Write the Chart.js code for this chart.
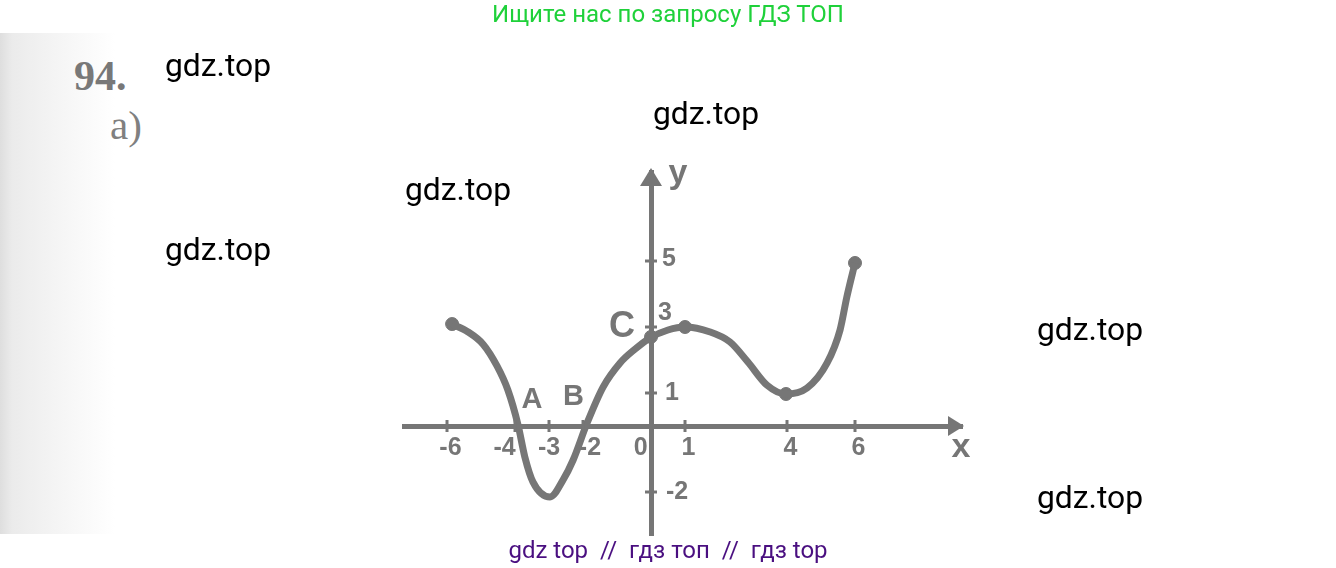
<!DOCTYPE html>
<html>
<head>
<meta charset="utf-8">
<title>94</title>
<script src="https://cdn.jsdelivr.net/npm/chart.js@4"></script>
<style>
html, body { margin: 0; padding: 0; background: #fff; width: 1336px; height: 568px; overflow: hidden; }
#scan { position: absolute; left: 0; top: 33px; width: 115px; height: 501px;
  background: linear-gradient(to right, #dedede 0, #ebebeb 12px, #f2f2f2 45px, #f8f8f8 75px, #fff 115px); }
#wrap { position: absolute; left: 0; top: 0; width: 1336px; height: 568px; filter: blur(0.6px); }
.t { position: absolute; white-space: pre; font-family: Roboto, sans-serif; line-height: 1; }
.wm { font-size: 31.8px; color: #000; }
.print { font-family: "Liberation Serif", serif; color: #808080; }
</style>
</head>
<body>
<div id="scan"></div>
<div class="t print" style="left:74px;top:55px;font-size:42px;font-weight:bold;color:#787878">94.</div>
<div class="t print" style="left:110px;top:105px;font-size:41px;">a)</div>
<div id="wrap"><canvas id="my-chart" width="1336" height="568"></canvas></div>
<div class="t" style="left:0;width:1336px;text-align:center;top:2px;font-size:24px;color:#1fd13a">Ищите нас по запросу ГДЗ ТОП</div>
<div class="t wm" style="left:165px;top:50px">gdz.top</div>
<div class="t wm" style="left:653px;top:98px">gdz.top</div>
<div class="t wm" style="left:405px;top:174px">gdz.top</div>
<div class="t wm" style="left:165px;top:234px">gdz.top</div>
<div class="t wm" style="left:1037px;top:314px">gdz.top</div>
<div class="t wm" style="left:1037px;top:482px">gdz.top</div>
<div class="t" style="left:0;width:1336px;text-align:center;top:538px;font-size:24px;color:#4a0f80">gdz top  //  гдз топ  //  гдз top</div>
<script>
// curve
const curveX = [-5.85, -5.38, -4.94, -4.53, -4.21, -3.91, -3.71, -3.47, -2.97, -2.59, -2.29, -1.88, -1.41, -0.91, -0.47, -0.03, 0.5, 1, 1.74, 2.32, 2.85, 3.41, 3.97, 4.59, 5.18, 5.56, 5.76, 6];
const curveY = [3.09, 2.85, 2.48, 1.82, 1.09, 0.03, -0.94, -1.7, -2.15, -1.64, -1.03, 0.09, 1.18, 1.91, 2.33, 2.67, 2.91, 3, 2.85, 2.55, 1.94, 1.24, 0.97, 1.15, 1.91, 2.91, 3.91, 4.94];
const markerX = [-5.85, 0, 1, 3.97, 6];
const markerY = [3.09, 2.7, 3, 0.97, 4.94];
const xTicks = [-6, -4, -3, -2, 0, 1, 4, 6];
const xTickLabels = ['-6', '-4', '-3', '-2', '0', '1', '4', '6'];
const yTicks = [-2, 1, 3, 5];
const yTickLabels = ['-2', '1', '3', '5'];

const GREY = '#767676';
const LABEL_FONT = 'bold 25px "Liberation Sans"';

const axisDecor = {
    id: 'axisDecor',
    afterDatasetsDraw(chart) {
        const { ctx, scales: { x, y } } = chart;
        const ox = x.getPixelForValue(0), oy = y.getPixelForValue(0);
        ctx.save();
        ctx.strokeStyle = GREY;
        ctx.fillStyle = GREY;
        ctx.lineWidth = 3;
        // small crosses on the axes
        xTicks.forEach(v => {
            const px = x.getPixelForValue(v);
            ctx.beginPath(); ctx.moveTo(px, oy - 6); ctx.lineTo(px, oy + 6); ctx.stroke();
        });
        yTicks.forEach(v => {
            const py = y.getPixelForValue(v);
            ctx.beginPath(); ctx.moveTo(ox - 6, py); ctx.lineTo(ox + 6, py); ctx.stroke();
        });
        // arrow heads
        ctx.beginPath();
        ctx.moveTo(ox, y.top - 4); ctx.lineTo(ox - 11, y.top + 14); ctx.lineTo(ox + 11, y.top + 14);
        ctx.closePath(); ctx.fill();
        ctx.beginPath();
        ctx.moveTo(x.right + 2, oy); ctx.lineTo(x.right - 14, oy - 10); ctx.lineTo(x.right - 14, oy + 10);
        ctx.closePath(); ctx.fill();
        // y tick labels sit right of the axis
        ctx.font = LABEL_FONT;
        ctx.textBaseline = 'middle';
        ctx.textAlign = 'center';
        const yShift = { '-2': [26, 0], '1': [21, 0], '3': [14, -14], '5': [18, -2] };
        yTicks.forEach((v, i) => {
            const s = yShift[v];
            ctx.fillText(yTickLabels[i], ox + s[0], y.getPixelForValue(v) + s[1]);
        });
        // letters
        ctx.font = 'bold 29px "Liberation Sans"';
        ctx.fillText('A', x.getPixelForValue(-3.5), y.getPixelForValue(0.8));
        ctx.fillText('B', x.getPixelForValue(-2.28), y.getPixelForValue(0.88));
        ctx.font = 'bold 36px "Liberation Sans"';
        ctx.fillText('C', x.getPixelForValue(-0.85), y.getPixelForValue(3));
        ctx.font = 'bold 34px "Liberation Sans"';
        ctx.fillText('y', ox + 27, y.top + 2);
        ctx.fillText('x', x.right - 1, oy + 22);
        ctx.restore();
    }
};

const myChart = new Chart(document.getElementById('my-chart').getContext('2d'), {
    type: 'scatter',
    data: {
        datasets: [{
            label: 'curve',
            data: curveX.map((v, i) => ({ x: v, y: curveY[i] })),
            showLine: true,
            borderColor: GREY,
            borderWidth: 7,
            cubicInterpolationMode: 'monotone',
            pointRadius: 0,
        }, {
            label: 'points',
            data: markerX.map((v, i) => ({ x: v, y: markerY[i] })),
            backgroundColor: GREY,
            borderColor: GREY,
            pointRadius: 6.5,
        }]
    },
    options: {
        responsive: false,
        animation: false,
        layout: { padding: { left: 404, right: 374, top: 172, bottom: 33 } },
        plugins: { legend: { display: false }, tooltip: { enabled: false } },
        scales: {
            x: {
                type: 'linear',
                position: { y: 0 },
                min: -7.265,
                max: 9.147,
                afterBuildTicks: s => { s.ticks = xTicks.map(v => ({ value: v })); },
                grid: { drawOnChartArea: false, drawTicks: false },
                border: { color: GREY, width: 5 },
                ticks: {
                    autoSkip: false,
                    maxRotation: 0,
                    padding: 7,
                    color: GREY,
                    font: { family: 'Liberation Sans', size: 25, weight: 'bold' },
                    // the printed labels are not centred on their ticks
                    callback: (v, i) => {
                        if (v === -4 || v === 0) return xTickLabels[i] + '   ';
                        if (v === -2) return '  ' + xTickLabels[i];
                        if (v === -3) return xTickLabels[i];
                        return ' ' + xTickLabels[i];
                    },
                },
            },
            y: {
                type: 'linear',
                position: { x: 0 },
                min: -3.303,
                max: 7.697,
                afterBuildTicks: s => { s.ticks = yTicks.map(v => ({ value: v })); },
                grid: { drawOnChartArea: false, drawTicks: false },
                border: { color: GREY, width: 5 },
                ticks: { display: false },
            },
        },
    },
    plugins: [axisDecor],
});
</script>
</body>
</html>
